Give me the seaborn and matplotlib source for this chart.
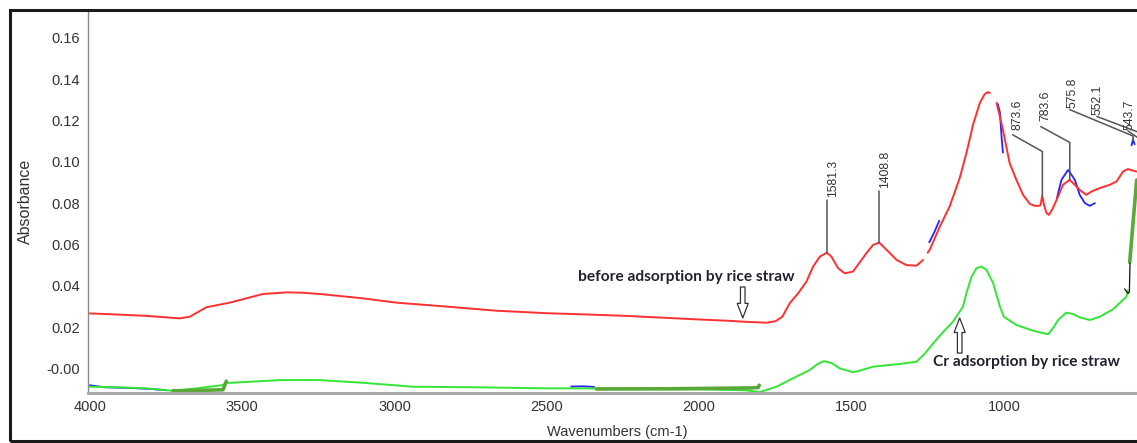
import pandas as pd
import seaborn as sns
import matplotlib.pyplot as plt
from matplotlib.patches import Rectangle
from matplotlib.ticker import MultipleLocator, FixedLocator

# ---------------- spectra (wavenumber in cm-1, absorbance) ----------------
# before adsorption (red); segment ids mark small gaps in the trace
red_wn = [4000, 3900, 3814, 3705, 3672, 3617, 3541, 3432, 3354, 3300, 3245, 3104, 2993,
          2829, 2665, 2501, 2392, 2239, 2021, 1900, 1857, 1779, 1750, 1727, 1703, 1675,
          1648, 1626, 1604, 1581, 1566, 1544, 1522, 1495, 1451, 1429, 1409, 1385, 1352,
          1320, 1287, 1265,
          1250, 1243, 1210, 1178, 1145, 1123, 1101, 1079, 1063, 1052, 1046,
          1024, 1013, 1003, 992, 981, 959, 937, 915, 899, 885, 880, 874, 868, 860, 852,
          839, 822, 806, 784, 767, 751, 729, 713, 685, 652, 630, 609, 593, 565]
red_abs = [0.0266, 0.0260, 0.0254, 0.0242, 0.0250, 0.0296, 0.0318, 0.0360, 0.0368, 0.0366,
           0.0360, 0.0339, 0.0318, 0.0299, 0.0279, 0.0267, 0.0262, 0.0254, 0.0238, 0.0230,
           0.0226, 0.0221, 0.0228, 0.0250, 0.0315, 0.0364, 0.0420, 0.0493, 0.0541, 0.0560,
           0.0541, 0.0485, 0.0460, 0.0469, 0.0558, 0.0598, 0.0609, 0.0574, 0.0525, 0.0500,
           0.0497, 0.0525,
           0.0560, 0.0575, 0.0687, 0.0784, 0.0921, 0.1042, 0.1180, 0.1285, 0.1328, 0.1338, 0.1333,
           0.1285, 0.1220, 0.1155, 0.1074, 0.0994, 0.0913, 0.0840, 0.0797, 0.0787, 0.0787,
           0.0790, 0.0835, 0.0790, 0.0752, 0.0743, 0.0776, 0.0832, 0.0889, 0.0913, 0.0889,
           0.0864, 0.0840, 0.0856, 0.0873, 0.0889, 0.0905, 0.0953, 0.0965, 0.0953]
red_seg = [0] * 42 + [1] * 11 + [2] * 29

# after Cr adsorption (green)
green_wn = [4000, 3900, 3814, 3727, 3650, 3563, 3552, 3500, 3376, 3245, 3103, 2939, 2720,
            2501, 2392, 2200, 2000, 1850, 1801, 1746, 1692, 1637, 1610, 1590, 1565, 1539,
            1495, 1470, 1429, 1342, 1287, 1260, 1232, 1200, 1167, 1134, 1123, 1106, 1090,
            1074, 1057, 1035, 1013, 1000, 959, 904, 855, 839, 822, 795, 773, 751, 718, 685,
            642, 609, 598, 593]
green_abs = [-0.0089, -0.0092, -0.0097, -0.0109, -0.0097, -0.0081, -0.0071, -0.0067,
             -0.0057, -0.0057, -0.0070, -0.0089, -0.0092, -0.0097, -0.0097, -0.0100,
             -0.0102, -0.0106, -0.0115, -0.0089, -0.0048, -0.0008, 0.0022, 0.0035, 0.0025,
             0.0000, -0.0019, -0.0010, 0.0008, 0.0021, 0.0032, 0.0070, 0.0121, 0.0175,
             0.0226, 0.0299, 0.0364, 0.0444, 0.0485, 0.0493, 0.0477, 0.0412, 0.0299, 0.0250,
             0.0210, 0.0182, 0.0165, 0.0194, 0.0234, 0.0270, 0.0263, 0.0247, 0.0234, 0.0250,
             0.0286, 0.0331, 0.0347, 0.0378]

# overlaid reference trace (blue), visible only in pieces
blue_wn = [4000, 3950, 3870, 3800, 3750,
           2420, 2380, 2345,
           1245, 1228, 1212,
           1020, 1013, 1007, 1003,
           826, 811, 789, 767, 751, 734, 718, 701,
           581, 576, 571]
blue_abs = [-0.0082, -0.0092, -0.0095, -0.0100, -0.0106,
            -0.0088, -0.0087, -0.0090,
            0.0610, 0.0660, 0.0715,
            0.1280, 0.1240, 0.1110, 0.1045,
            0.0824, 0.0913, 0.0961, 0.0913, 0.0840, 0.0800, 0.0787, 0.0800,
            0.1080, 0.1108, 0.1085]
blue_seg = [0] * 5 + [1] * 3 + [2] * 3 + [3] * 4 + [4] * 8 + [5] * 3

# baseline-corrected pieces (dark green) and connector (black)
dkgreen_wn = [3727, 3563, 3552, 2337, 2100, 1830, 1806, 1803, 587, 564]
dkgreen_abs = [-0.0109, -0.0104, -0.0062, -0.0100, -0.0099, -0.0095, -0.0093, -0.0082,
               0.0514, 0.0912]
dkgreen_seg = [0, 0, 0, 1, 1, 1, 1, 1, 2, 2]
black_wn = [604, 592, 588, 586]
black_abs = [0.0385, 0.0362, 0.0370, 0.0510]

# peak annotations
peak_labels = ["1581.3", "1408.8", "873.6", "783.6", "575.8", "552.1", "543.7"]
peak_wn = [1581.3, 1408.8, 873.6, 783.6, 575.8, 552.1, 543.7]
peak_abs = [0.0560, 0.0609, 0.0835, 0.0913, 0.1105, 0.1080, 0.1060]
leader_elbow_abs = [0.0816, 0.0861, 0.1050, 0.1094, 0.1125, 0.1140, 0.1100]
leader_end_wn = [1581.3, 1408.8, 971, 879, 784, 695, 593]
leader_end_abs = [0.0816, 0.0861, 0.1131, 0.1171, 0.1253, 0.1220, 0.1150]
label_wn = [1561, 1391, 954, 863, 774, 692, 587]
label_abs = [0.0830, 0.0874, 0.1155, 0.1196, 0.1260, 0.1225, 0.1155]

y_ticks = [0.0, 0.02, 0.04, 0.06, 0.08, 0.10, 0.12, 0.14, 0.16]
y_ticklabels = ["-0.00", "0.02", "0.04", "0.06", "0.08", "0.10", "0.12", "0.14", "0.16"]
x_ticks = [4000, 3500, 3000, 2500, 2000, 1500, 1000]

# ---------------- figure ----------------
sns.set_theme(style="white")
plt.rcParams['font.family'] = ['Liberation Sans', 'DejaVu Sans']

W, H = 1137, 443
fig = plt.figure(figsize=(W / 100, H / 100), dpi=100)
fig.patch.set_facecolor("white")
ax = fig.add_axes([88 / W, 50.3 / H, (W - 88) / W, 382 / H])
ax.set_facecolor("white")

red_df = pd.DataFrame({"wn": red_wn, "abs": red_abs, "seg": red_seg})
green_df = pd.DataFrame({"wn": green_wn, "abs": green_abs})
blue_df = pd.DataFrame({"wn": blue_wn, "abs": blue_abs, "seg": blue_seg})
dk_df = pd.DataFrame({"wn": dkgreen_wn, "abs": dkgreen_abs, "seg": dkgreen_seg})
blk_df = pd.DataFrame({"wn": black_wn, "abs": black_abs})

sns.lineplot(data=blue_df, x="wn", y="abs", units="seg", estimator=None, sort=False,
             color="#2424ff", lw=1.3, ax=ax)
sns.lineplot(data=red_df, x="wn", y="abs", units="seg", estimator=None, sort=False,
             color="#ff3030", lw=1.4, ax=ax)
sns.lineplot(data=green_df, x="wn", y="abs", estimator=None, sort=False,
             color="#33e633", lw=1.4, ax=ax)
sns.lineplot(data=dk_df, x="wn", y="abs", units="seg", estimator=None, sort=False,
             color="#5aa838", lw=2.6, ax=ax)
sns.lineplot(data=blk_df, x="wn", y="abs", estimator=None, sort=False,
             color="#111111", lw=0.9, ax=ax)

# peak labels with leader lines
for lab, pw, pa, ea, lw_, la_, tw, ta in zip(peak_labels, peak_wn, peak_abs, leader_elbow_abs,
                                             leader_end_wn, leader_end_abs, label_wn, label_abs):
    ax.plot([pw, pw, lw_], [pa, ea, la_], color="#555555", lw=1.1)
    ax.text(tw, ta, lab, rotation=90, ha="center", va="bottom", fontsize=8.7,
            color="#333333")

# sample annotations with hollow arrows
note_font = dict(family=["Lato", "DejaVu Sans"], fontweight="bold", fontsize=11.2,
                 color="#22222e")
ax.text(2041, 0.0443, "before adsorption by rice straw", ha="center", va="center", **note_font)
ax.text(925, 0.0031, "Cr adsorption by rice straw", ha="center", va="center", **note_font)
arrow_style = dict(arrowstyle="simple,head_length=1.05,head_width=0.8,tail_width=0.33",
                   fc="white", ec="#333333", lw=0.9, shrinkA=0, shrinkB=0, mutation_scale=10)
ax.annotate("", xy=(1857, 0.0244), xytext=(1857, 0.0394), arrowprops=arrow_style)
ax.annotate("", xy=(1145, 0.0244), xytext=(1145, 0.0074), arrowprops=arrow_style)

# axes styling
ax.set_xlim(4006, 563)
ax.set_ylim(-0.0118, 0.1732)
ax.xaxis.set_major_locator(FixedLocator(x_ticks))
ax.xaxis.set_minor_locator(MultipleLocator(100))
ax.yaxis.set_major_locator(FixedLocator(y_ticks))
ax.yaxis.set_minor_locator(MultipleLocator(0.002))
ax.set_yticklabels(y_ticklabels)
ax.set_xticklabels([str(v) for v in x_ticks])

for side in ("top", "right"):
    ax.spines[side].set_visible(False)
ax.spines["left"].set_color("#8a8a8a")
ax.spines["left"].set_linewidth(1.0)
ax.spines["bottom"].set_color("#a8a8a8")
ax.spines["bottom"].set_linewidth(2.2)

ax.tick_params(axis="both", which="major", labelsize=10.5, labelcolor="#333333",
               color="#555555", length=3.5, width=1, direction="out", pad=2)
ax.tick_params(axis="both", which="minor", color="#666666", length=2, width=0.8,
               direction="inout")

ax.set_xlabel("Wavenumbers (cm-1)", fontsize=10.5, color="#333333")
ax.set_ylabel("Absorbance", fontsize=11.5, color="#333333")
ax.xaxis.set_label_coords(0.505, -0.085)
ax.yaxis.set_label_coords(-0.0525, 0.5)

# window frame
fig.add_artist(Rectangle((10 / W, 2 / H), 1.2, 431 / H, transform=fig.transFigure,
                         fill=False, lw=2.2, ec="#1a1a1a", clip_on=False))

fig.savefig("out.png", dpi=100, facecolor="white")
